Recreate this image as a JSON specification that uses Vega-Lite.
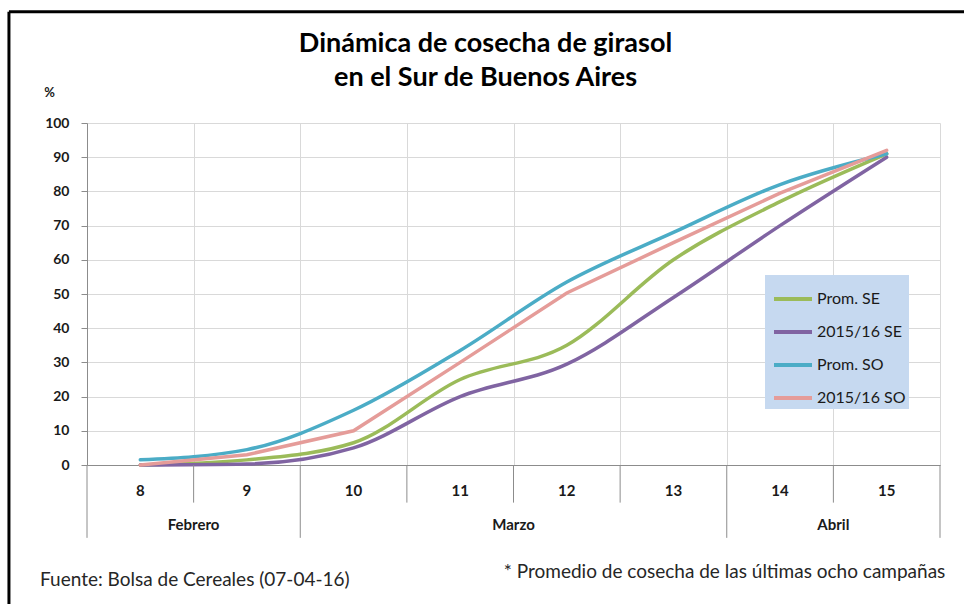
{
  "$schema": "https://vega.github.io/schema/vega-lite/v6.json",
  "width": 853,
  "height": 342,
  "autosize": {"type": "none"},
  "padding": {"left": 87, "top": 123, "right": 24, "bottom": 139},
  "background": "white",
  "config": {
    "font": "Lato",
    "view": {"stroke": null},
    "title": {"font": "Lato"},
    "axis": {"labelFont": "Lato", "titleFont": "Lato"},
    "axisY": {"tickCount": 20, "labelOverlap": false},
    "legend": {"labelFont": "Lato"}
  },
  "title": {
    "text": ["Dinámica de cosecha de girasol", "en el Sur de Buenos Aires"],
    "fontSize": 27,
    "fontWeight": "bold",
    "color": "#000000",
    "lineHeight": 34,
    "anchor": "middle",
    "frame": "group",
    "dx": -28,
    "offset": -82
  },
  "datasets": {
    "series": [
      {"semana": 8, "serie": "Prom. SE", "pct": 0},
      {"semana": 9, "serie": "Prom. SE", "pct": 1.5},
      {"semana": 10, "serie": "Prom. SE", "pct": 6.5},
      {"semana": 11, "serie": "Prom. SE", "pct": 25},
      {"semana": 12, "serie": "Prom. SE", "pct": 35},
      {"semana": 13, "serie": "Prom. SE", "pct": 60},
      {"semana": 14, "serie": "Prom. SE", "pct": 77},
      {"semana": 15, "serie": "Prom. SE", "pct": 91},
      {"semana": 8, "serie": "2015/16 SE", "pct": 0},
      {"semana": 9, "serie": "2015/16 SE", "pct": 0.3},
      {"semana": 10, "serie": "2015/16 SE", "pct": 5},
      {"semana": 11, "serie": "2015/16 SE", "pct": 20},
      {"semana": 12, "serie": "2015/16 SE", "pct": 29.5},
      {"semana": 13, "serie": "2015/16 SE", "pct": 49},
      {"semana": 14, "serie": "2015/16 SE", "pct": 70},
      {"semana": 15, "serie": "2015/16 SE", "pct": 90},
      {"semana": 8, "serie": "Prom. SO", "pct": 1.5},
      {"semana": 9, "serie": "Prom. SO", "pct": 4.5},
      {"semana": 10, "serie": "Prom. SO", "pct": 16},
      {"semana": 11, "serie": "Prom. SO", "pct": 33.5},
      {"semana": 12, "serie": "Prom. SO", "pct": 53.5},
      {"semana": 13, "serie": "Prom. SO", "pct": 68},
      {"semana": 14, "serie": "Prom. SO", "pct": 82},
      {"semana": 15, "serie": "Prom. SO", "pct": 91},
      {"semana": 8, "serie": "2015/16 SO", "pct": 0},
      {"semana": 9, "serie": "2015/16 SO", "pct": 3},
      {"semana": 10, "serie": "2015/16 SO", "pct": 10},
      {"semana": 11, "serie": "2015/16 SO", "pct": 30},
      {"semana": 12, "serie": "2015/16 SO", "pct": 50.3},
      {"semana": 13, "serie": "2015/16 SO", "pct": 65},
      {"semana": 14, "serie": "2015/16 SO", "pct": 79.5},
      {"semana": 15, "serie": "2015/16 SO", "pct": 92}
    ],
    "semanas": [
      {"semana": 8}, {"semana": 9}, {"semana": 10}, {"semana": 11},
      {"semana": 12}, {"semana": 13}, {"semana": 14}, {"semana": 15}
    ],
    "limitesSemana": [
      {"limite": 8.5}, {"limite": 10.5}, {"limite": 11.5}, {"limite": 12.5}, {"limite": 14.5}
    ],
    "limitesMes": [
      {"limite": 7.5}, {"limite": 9.5}, {"limite": 13.5}, {"limite": 15.5}
    ],
    "meses": [
      {"mes": "Febrero", "centro": 8.5},
      {"mes": "Marzo", "centro": 11.5},
      {"mes": "Abril", "centro": 14.5}
    ],
    "fuente": [{"texto": "Fuente: Bolsa de Cereales (07-04-16)"}],
    "nota": [{"texto": "* Promedio de cosecha de las últimas ocho campañas"}],
    "marco": [{"borde": "marco"}]
  },
  "layer": [
    {
      "data": {"name": "series"},
      "transform": [{"filter": "datum.serie !== '2015/16 SO'"}],
      "mark": {"type": "line", "interpolate": "monotone", "strokeWidth": 3.5, "strokeCap": "round"},
      "encoding": {
        "x": {"field": "semana", "type": "quantitative", "scale": {"domain": [7.5, 15.5], "nice": false, "zero": false},
          "axis": {"values": [7.5, 8.5, 9.5, 10.5, 11.5, 12.5, 13.5, 14.5, 15.5], "tickCount": 20, "grid": true, "gridColor": "#d9d9d9", "gridWidth": 1, "ticks": false, "labels": false, "title": null, "domainColor": "#8c8c8c", "domainWidth": 1}},
        "y": {"field": "pct", "type": "quantitative", "scale": {"domain": [0, 100], "nice": false},
          "axis": {"values": [0, 10, 20, 30, 40, 50, 60, 70, 80, 90, 100], "tickCount": 20, "grid": true, "gridColor": "#d9d9d9", "gridWidth": 1,
            "tickSize": 6, "tickColor": "#8c8c8c", "domainColor": "#8c8c8c", "labelFontSize": 14, "labelFontWeight": "bold", "labelColor": "#1a1a1a", "labelPadding": 12,
            "title": "%", "titleAngle": 0, "titleFontSize": 13, "titleFontWeight": "bold", "titleColor": "#1a1a1a", "titleX": -38, "titleY": -31, "titleAlign": "center", "titleBaseline": "middle"}},
        "color": {"field": "serie", "type": "nominal",
          "scale": {"domain": ["Prom. SE", "2015/16 SE", "Prom. SO", "2015/16 SO"], "range": ["#9bbb59", "#8064a2", "#4bacc6", "#e59c99"]},
          "legend": {"title": null, "orient": "none", "legendX": 678, "legendY": 152, "fillColor": "#c6d9f0", "padding": 3,
            "symbolType": "stroke", "symbolSize": 1444, "symbolStrokeWidth": 4, "symbolOffset": 4, "labelFontSize": 16, "labelColor": "#1a1a1a", "labelOffset": 3, "rowPadding": 4}},
        "order": {"field": "semana", "type": "quantitative"}
      }
    },
    {
      "data": {"name": "series"},
      "transform": [{"filter": "datum.serie === '2015/16 SO'"}],
      "mark": {"type": "line", "interpolate": "linear", "strokeWidth": 3.5, "strokeCap": "round"},
      "encoding": {
        "x": {"field": "semana", "type": "quantitative"},
        "y": {"field": "pct", "type": "quantitative"},
        "color": {"field": "serie", "type": "nominal"},
        "order": {"field": "semana", "type": "quantitative"}
      }
    },
    {
      "data": {"name": "limitesSemana"},
      "mark": {"type": "rule", "color": "#8c8c8c", "strokeWidth": 1},
      "encoding": {
        "x": {"field": "limite", "type": "quantitative"},
        "y": {"datum": 0, "type": "quantitative"},
        "y2": {"datum": -11}
      }
    },
    {
      "data": {"name": "limitesMes"},
      "mark": {"type": "rule", "color": "#8c8c8c", "strokeWidth": 1},
      "encoding": {
        "x": {"field": "limite", "type": "quantitative"},
        "y": {"datum": 0, "type": "quantitative"},
        "y2": {"datum": -21.3}
      }
    },
    {
      "data": {"name": "semanas"},
      "mark": {"type": "text", "fontSize": 15, "fontWeight": "bold", "color": "#1a1a1a", "baseline": "middle"},
      "encoding": {
        "x": {"field": "semana", "type": "quantitative"},
        "y": {"datum": -7.6, "type": "quantitative"},
        "text": {"field": "semana", "type": "nominal"}
      }
    },
    {
      "data": {"name": "meses"},
      "mark": {"type": "text", "fontSize": 15, "fontWeight": "bold", "color": "#1a1a1a", "baseline": "middle"},
      "encoding": {
        "x": {"field": "centro", "type": "quantitative"},
        "y": {"datum": -17.6, "type": "quantitative"},
        "text": {"field": "mes", "type": "nominal"}
      }
    },
    {
      "data": {"name": "fuente"},
      "mark": {"type": "text", "fontSize": 19, "color": "#262626", "align": "left", "baseline": "alphabetic"},
      "encoding": {
        "x": {"datum": 7.06, "type": "quantitative"},
        "y": {"datum": -35.3, "type": "quantitative"},
        "text": {"field": "texto", "type": "nominal"}
      }
    },
    {
      "data": {"name": "nota"},
      "mark": {"type": "text", "fontSize": 19, "color": "#262626", "align": "right", "baseline": "alphabetic"},
      "encoding": {
        "x": {"datum": 15.55, "type": "quantitative"},
        "y": {"datum": -33.0, "type": "quantitative"},
        "text": {"field": "texto", "type": "nominal"}
      }
    },
    {
      "data": {"name": "marco"},
      "mark": {"type": "rule", "color": "#000000", "strokeWidth": 3},
      "encoding": {
        "x": {"datum": 6.768, "type": "quantitative"},
        "y": {"datum": 132.5, "type": "quantitative"},
        "y2": {"datum": -41}
      }
    },
    {
      "data": {"name": "marco"},
      "mark": {"type": "rule", "color": "#000000", "strokeWidth": 3},
      "encoding": {
        "x": {"datum": 6.768, "type": "quantitative"},
        "x2": {"datum": 15.8},
        "y": {"datum": 132.5, "type": "quantitative"}
      }
    }
  ]
}
